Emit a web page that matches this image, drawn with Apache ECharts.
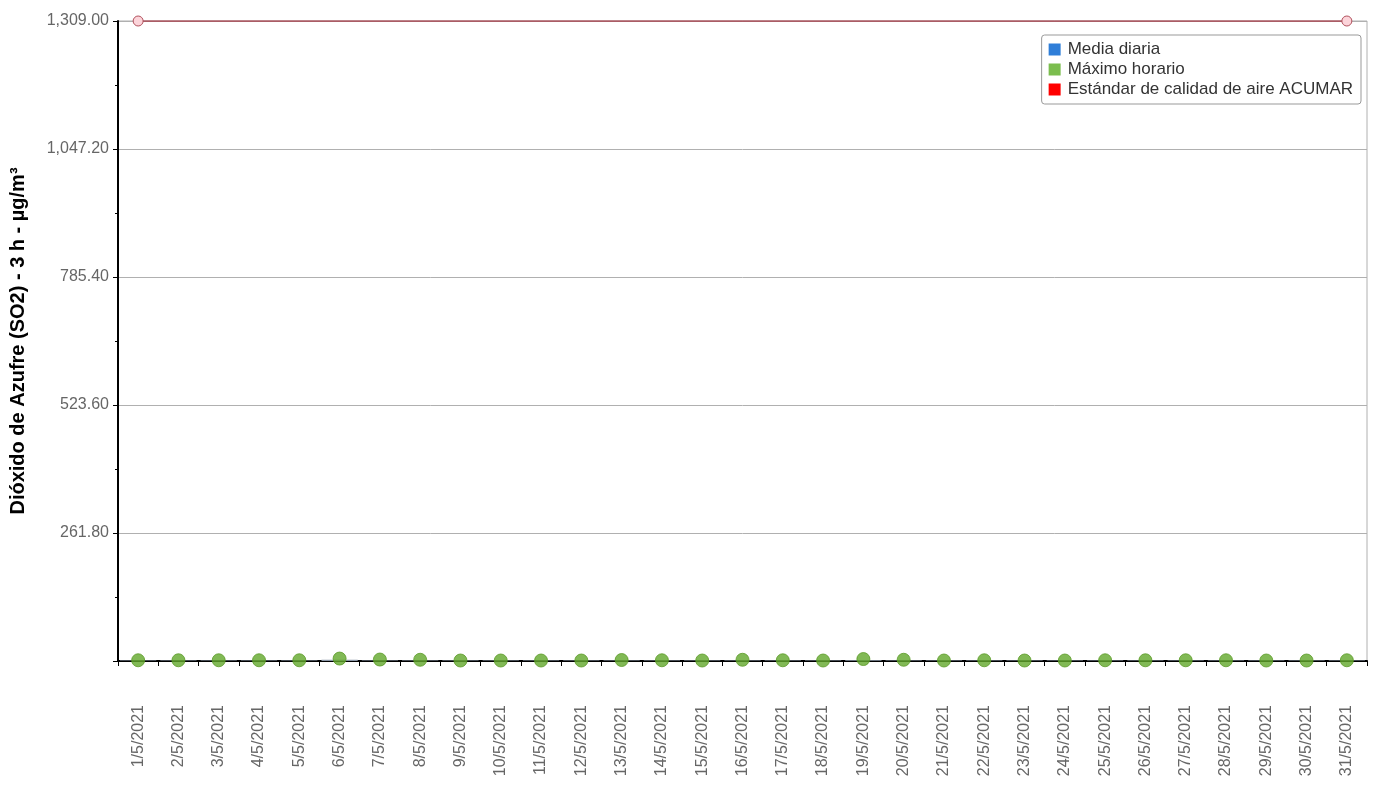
<!DOCTYPE html>
<html>
<head>
<meta charset="utf-8">
<script src="https://cdn.jsdelivr.net/npm/echarts@6/dist/echarts.min.js"></script>
<style>
  html, body { margin: 0; padding: 0; background: #fff; }
  #main { width: 1373px; height: 785px; }
</style>
</head>
<body>
<div id="main"></div>
<script>
// days of May 2021
const categories = [
  '1/5/2021', '2/5/2021', '3/5/2021', '4/5/2021', '5/5/2021', '6/5/2021', '7/5/2021',
  '8/5/2021', '9/5/2021', '10/5/2021', '11/5/2021', '12/5/2021', '13/5/2021', '14/5/2021',
  '15/5/2021', '16/5/2021', '17/5/2021', '18/5/2021', '19/5/2021', '20/5/2021', '21/5/2021',
  '22/5/2021', '23/5/2021', '24/5/2021', '25/5/2021', '26/5/2021', '27/5/2021', '28/5/2021',
  '29/5/2021', '30/5/2021', '31/5/2021'
]
const mediaDiaria = [
  0.8, 0.8, 0.8, 0.8, 0.8, 2.5, 1.2, 1, 0.8, 0.8, 0.8, 0.8, 1, 0.8, 0.8, 1,
  0.8, 0.8, 1.5, 1, 0.8, 0.8, 0.8, 0.8, 0.8, 0.8, 0.8, 0.8, 0.8, 0.8, 0.8
]
const maximoHorario = [
  1.5, 1.5, 1.5, 1.5, 1.5, 5, 3, 2.5, 1, 1, 1, 1, 2, 1.5, 1, 2.5,
  1.5, 1, 4, 2.5, 1, 1.5, 1, 1, 1.5, 1.5, 1.5, 1.5, 1, 1, 1.5
]
const estandar = categories.map(() => 1309)
const yMax = 1309
const yStep = 261.8

const chart = echarts.init(document.getElementById('main'))

const option = {
  animation: false,
  textStyle: { fontFamily: 'Liberation Sans, Arial, sans-serif' },
  legend: {
    orient: 'vertical',
    right: 12,
    top: 35,
    padding: [6, 8, 6, 7],
    itemGap: 3,
    itemWidth: 12,
    itemHeight: 12,
    backgroundColor: '#fff',
    borderColor: '#999',
    borderWidth: 1,
    borderRadius: 3,
    textStyle: { fontSize: 17, color: '#333', padding: [0, 0, 0, 2] },
    data: [
      { name: 'Media diaria', icon: 'rect', itemStyle: { color: '#2f7ed8', borderWidth: 0 } },
      { name: 'Máximo horario', icon: 'rect', itemStyle: { color: '#5aac22', borderWidth: 0 } },
      { name: 'Estándar de calidad de aire ACUMAR', icon: 'rect', itemStyle: { color: '#ff0000', borderWidth: 0 } }
    ]
  },
  grid: {
    left: 118,
    right: 6,
    top: 21,
    bottom: 124,
    show: true,
    borderColor: '#b0b0b0',
    borderWidth: 1
  },
  xAxis: {
    type: 'category',
    data: categories,
    boundaryGap: true,
    axisLine: { lineStyle: { color: '#000', width: 2 } },
    axisTick: { show: true, alignWithLabel: false, length: 5, lineStyle: { color: '#000' } },
    axisLabel: {
      rotate: 90,
      interval: 0,
      margin: 44,
      fontSize: 16,
      color: '#666'
    }
  },
  yAxis: {
    type: 'value',
    min: 0,
    max: yMax,
    interval: yStep,
    name: 'Dióxido de Azufre (SO2) - 3 h - µg/m³',
    nameLocation: 'middle',
    nameGap: 90,
    nameRotate: 90,
    nameTextStyle: { fontSize: 20, fontWeight: 'bold', color: '#000' },
    axisLine: { show: true, lineStyle: { color: '#000', width: 2 } },
    axisTick: { show: true, length: 5, lineStyle: { color: '#000' } },
    minorTick: { show: true, splitNumber: 2, length: 3, lineStyle: { color: '#000' } },
    splitLine: { show: true, lineStyle: { color: '#b0b0b0', width: 1 } },
    axisLabel: {
      fontSize: 16,
      color: '#666',
      margin: 9,
      showMinLabel: false,
      formatter: (v) => v.toLocaleString('en-US', { minimumFractionDigits: 2, maximumFractionDigits: 2 })
    }
  },
  series: [
    {
      name: 'Media diaria',
      type: 'bar',
      barWidth: '90%',
      data: mediaDiaria,
      itemStyle: { color: '#8a96a6' },
      z: 3
    },
    {
      name: 'Máximo horario',
      type: 'scatter',
      data: maximoHorario,
      symbol: 'circle',
      symbolSize: 13,
      itemStyle: { color: '#62a82a', borderColor: '#5a9a26', borderWidth: 1 },
      z: 5
    },
    {
      name: 'Estándar de calidad de aire ACUMAR',
      type: 'line',
      data: estandar.map((v, i) => (i === 0 || i === estandar.length - 1)
        ? { value: v, symbol: 'circle', symbolSize: 10 }
        : { value: v, symbol: 'none' }),
      showAllSymbol: true,
      lineStyle: { color: '#a8404c', width: 1.5 },
      itemStyle: { color: '#fcd4da', borderColor: '#b0505c', borderWidth: 1 },
      z: 4
    }
  ]
}

chart.setOption(option)
</script>
</body>
</html>
